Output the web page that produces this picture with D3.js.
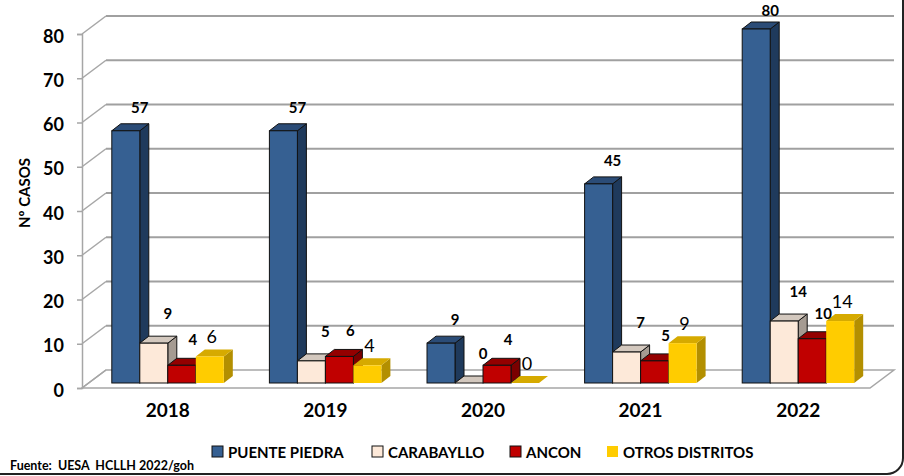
<!DOCTYPE html>
<html>
<head>
<meta charset="utf-8">
<script src="https://cdn.jsdelivr.net/npm/d3@7"></script>
<style>
  html, body { margin: 0; padding: 0; background: #fff; }
  svg { display: block; font-family: Lato, "Open Sans", sans-serif; }
</style>
</head>
<body>
<svg id="chart" width="904" height="476"></svg>
<script>
// data
var years = ["2018", "2019", "2020", "2021", "2022"];
var series = ["PUENTE PIEDRA", "CARABAYLLO", "ANCON", "OTROS DISTRITOS"];
var puentePiedra = [57, 57, 9, 45, 80];
var carabayllo = [9, 5, 0, 7, 14];
var ancon = [4, 6, 4, 5, 10];
var otros = [6, 4, 0, 9, 14];
var yTicks = [0, 10, 20, 30, 40, 50, 60, 70, 80];

var values = [puentePiedra, carabayllo, ancon, otros];

// colours: front, side, top
var colors = [
  { front: "#366092", side: "#1f3a5c", top: "#2b4c77", stroke: "#111" },
  { front: "#fde9d9", side: "#a59b92", top: "#d3c8be", stroke: "#111" },
  { front: "#c00000", side: "#7a0000", top: "#940000", stroke: "#111" },
  { front: "#ffcc00", side: "#b38f00", top: "#d6aa00", stroke: "none" }
];
// label nudges per series (dx, dy from top front centre) and font style
var labelStyle = [
  { dx: 14, dy: -18, weight: "bold", size: 15 },
  { dx: 14, dy: -24, weight: "bold", size: 15 },
  { dx: 11, dy: -20, weight: "bold", size: 15 },
  { dx: 2, dy: -13, weight: "normal", size: 18 }
];

var svg = d3.select("#chart");

var frontLeft = 82, frontRight = 870;
var wallDx = 24, wallDy = -18;     // depth of the whole plot box
var barShiftX = 7, barShiftY = -5; // bars sit a bit behind the front edge
var barDx = 9, barDy = -7;         // depth of each bar
var groupWidth = 112;

var x0 = d3.scaleBand().domain(years).range([frontLeft, frontRight]);
var x1 = d3.scaleBand().domain(series).range([0, groupWidth]);
var y = d3.scaleLinear().domain([0, 80]).range([388, 34]);

// outer rounded frame
svg.append("rect")
  .attr("x", -20).attr("y", -20)
  .attr("width", 923).attr("height", 494)
  .attr("rx", 16)
  .attr("fill", "none")
  .attr("stroke", "#222")
  .attr("stroke-width", 2);

// floor
var g = svg.append("g");
g.append("path")
  .attr("d", d3.line()([
    [frontLeft, y(0)], [frontRight, y(0)],
    [frontRight + wallDx, y(0) + wallDy], [frontLeft + wallDx, y(0) + wallDy]
  ]) + "Z")
  .attr("fill", "#fff")
  .attr("stroke", "#a6a6a6")
  .attr("stroke-width", 1.5);

// back gridlines and side wall diagonals
yTicks.forEach(function (t) {
  if (t > 0) {
    g.append("line")
      .attr("x1", frontLeft + wallDx).attr("x2", frontRight + wallDx)
      .attr("y1", y(t) + wallDy).attr("y2", y(t) + wallDy)
      .attr("stroke", "#a0a0a0").attr("stroke-width", 2);
  }
  g.append("line")
    .attr("x1", frontLeft).attr("y1", y(t))
    .attr("x2", frontLeft + wallDx).attr("y2", y(t) + wallDy)
    .attr("stroke", "#a6a6a6").attr("stroke-width", 1.5);
});

// y axis
var yAxis = d3.axisLeft(y).tickValues(yTicks).tickSize(5).tickPadding(13);
var ya = svg.append("g").attr("transform", "translate(" + frontLeft + ",0)").call(yAxis);
ya.select(".domain").attr("stroke", "#a6a6a6").attr("stroke-width", 1.5);
ya.selectAll(".tick line").attr("stroke", "#a6a6a6").attr("stroke-width", 1.5);
ya.selectAll(".tick text")
  .attr("font-family", "Lato, sans-serif")
  .attr("font-size", 18).attr("font-weight", "bold").attr("fill", "#000")
  .attr("dy", "0.45em");

// bars
var bars = svg.append("g");
years.forEach(function (yr, i) {
  series.forEach(function (s, k) {
    var v = values[k][i];
    var c = colors[k];
    var xl = x0(yr) + (x0.bandwidth() - groupWidth) / 2 + barShiftX + x1(s);
    var xr = xl + x1.bandwidth();
    var yb = y(0) + barShiftY;
    var yt = y(v) + barShiftY;
    var bg = bars.append("g");
    // side
    bg.append("path")
      .attr("d", d3.line()([[xr, yb], [xr + barDx, yb + barDy], [xr + barDx, yt + barDy], [xr, yt]]) + "Z")
      .attr("fill", c.side).attr("stroke", c.stroke).attr("stroke-width", 1).attr("stroke-linejoin", "round");
    // top
    bg.append("path")
      .attr("d", d3.line()([[xl, yt], [xl + barDx, yt + barDy], [xr + barDx, yt + barDy], [xr, yt]]) + "Z")
      .attr("fill", c.top).attr("stroke", c.stroke).attr("stroke-width", 1).attr("stroke-linejoin", "round");
    // front
    if (v > 0) {
      bg.append("rect")
        .attr("x", xl).attr("y", yt)
        .attr("width", x1.bandwidth()).attr("height", yb - yt)
        .attr("fill", c.front).attr("stroke", c.stroke).attr("stroke-width", 1);
    }
  });
});

// value labels
var labels = svg.append("g");
years.forEach(function (yr, i) {
  series.forEach(function (s, k) {
    var v = values[k][i];
    var st = labelStyle[k];
    var xc = x0(yr) + (x0.bandwidth() - groupWidth) / 2 + barShiftX + x1(s) + x1.bandwidth() / 2;
    labels.append("text")
      .attr("x", xc + st.dx)
      .attr("y", Math.max(16, y(v) + barShiftY + st.dy))
      .attr("text-anchor", "middle")
      .attr("font-size", st.size)
      .attr("font-weight", st.weight)
      .text(v);
  });
});

// category labels
svg.append("g").selectAll("text")
  .data(years)
  .join("text")
  .attr("x", function (d) { return x0(d) + x0.bandwidth() / 2 + barShiftX; })
  .attr("y", 417)
  .attr("text-anchor", "middle")
  .attr("font-size", 19)
  .attr("font-weight", "bold")
  .text(function (d) { return d; });

// y title
svg.append("text")
  .attr("transform", "translate(30,193) rotate(-90)")
  .attr("text-anchor", "middle")
  .attr("font-size", 15)
  .attr("font-weight", "bold")
  .text("Nº CASOS");

// legend
var legendX = [212, 372, 510, 607];
var legend = svg.append("g");
series.forEach(function (s, k) {
  var lg = legend.append("g").attr("transform", "translate(" + legendX[k] + ",446)");
  lg.append("rect")
    .attr("width", 11).attr("height", 11)
    .attr("fill", colors[k].front)
    .attr("stroke", colors[k].stroke === "none" ? "none" : "#111")
    .attr("stroke-width", 1);
  lg.append("text")
    .attr("x", 16).attr("y", 11.5)
    .attr("font-size", 15)
    .attr("font-weight", "bold")
    .text(s);
});

// source note
svg.append("text")
  .attr("x", 10).attr("y", 470)
  .attr("font-size", 12.5)
  .attr("font-weight", "bold")
  .attr("xml:space", "preserve")
  .text("Fuente:  UESA  HCLLH 2022/goh");
</script>
</body>
</html>
